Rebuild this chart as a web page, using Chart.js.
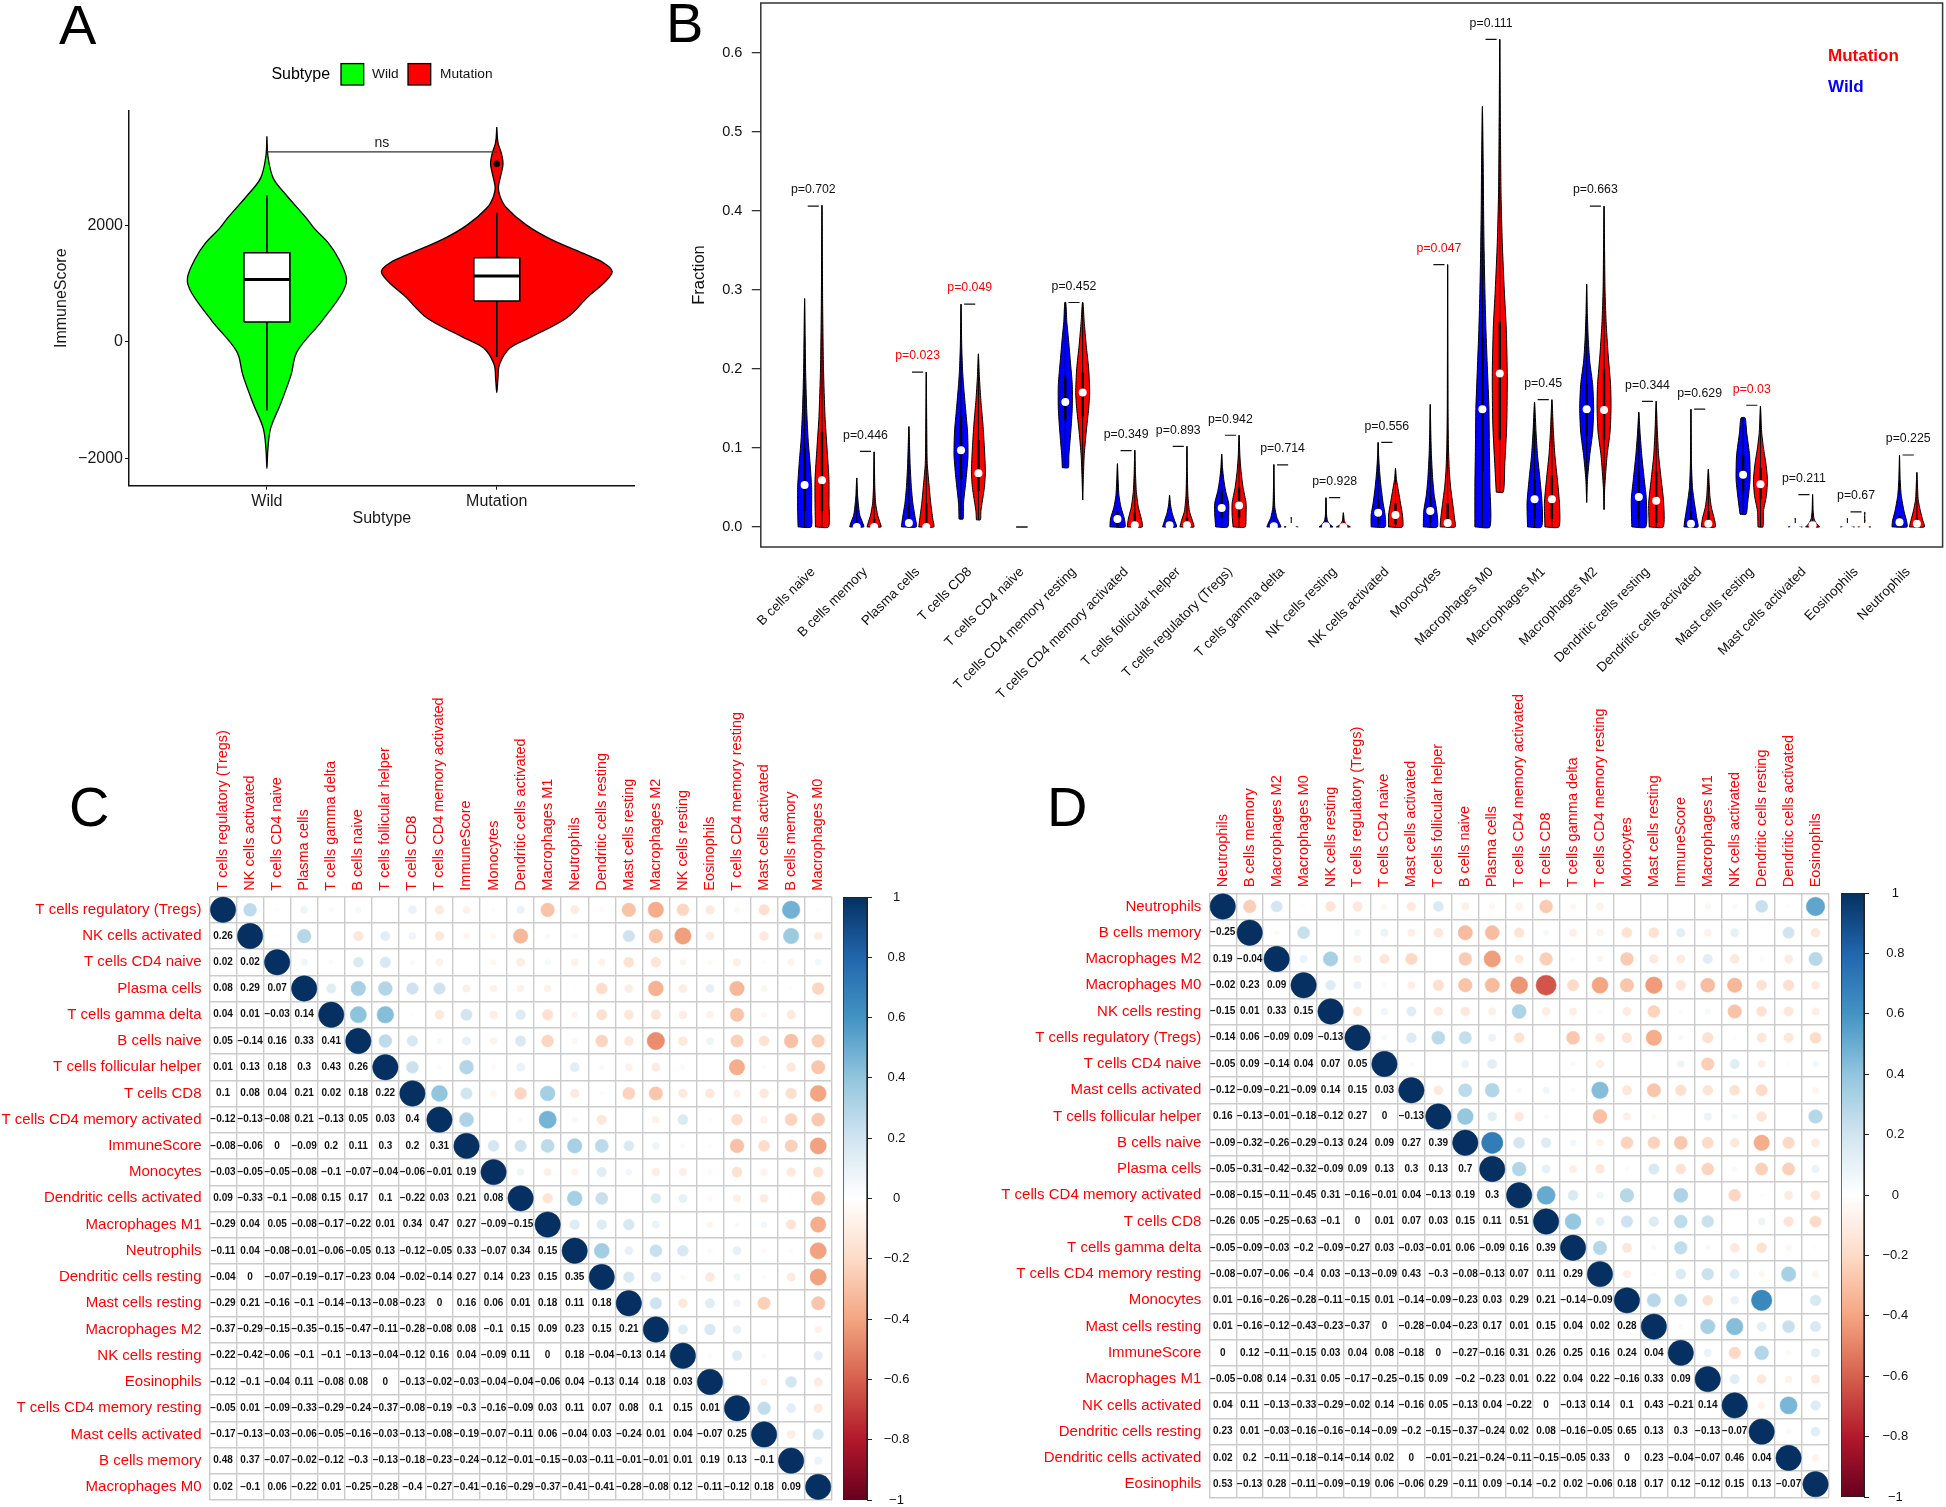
<!DOCTYPE html>
<html>
<head>
<meta charset="utf-8">
<title>Immune cell fractions</title>
<script src="https://cdn.jsdelivr.net/npm/chart.js@4/dist/chart.umd.js"></script>
<style>
html,body{margin:0;padding:0;background:#fff}
#page{position:relative;width:1946px;height:1507px;overflow:hidden;background:#fff}
canvas{position:absolute}
</style>
</head>
<body>
<div id="page"></div>
<script>
/* ================= DATA : PANEL A ================= */
const subtypes=["Wild","Mutation"];
const scoreTicks=[-2000,0,2000];
// violin outline: score, half width in category units
const wildScore=[3528,3173,2806,2530,2132,1948,1703,1427,1090,845,355,-165,-564,-1054,-1482,-1850,-2169];
const wildHalf=[0,.005,.028,.082,.170,.206,.266,.312,.346,.328,.238,.131,.105,.060,.016,.004,0];
const mutScore=[3688,3418,3234,3051,2867,2653,2499,2316,2009,1764,1489,1366,1213,1029,784,417,80,-104,-380,-625,-870];
const mutHalf=[0,.005,.020,.027,.018,.007,.014,.039,.128,.234,.394,.461,.502,.470,.399,.305,.146,.057,.012,.005,0];
// q1, median, q3, whisker low, whisker high
const wildBox=[343,1072,1531,-1176,2512];
const mutBox=[704,1133,1446,-257,2218];
const mutOutlier=[3057];
const nsBracket=3262;

/* ================= DATA : PANEL B ================= */
const cellTypes=["B cells naive","B cells memory","Plasma cells","T cells CD8","T cells CD4 naive","T cells CD4 memory resting","T cells CD4 memory activated","T cells follicular helper","T cells regulatory (Tregs)","T cells gamma delta","NK cells resting","NK cells activated","Monocytes","Macrophages M0","Macrophages M1","Macrophages M2","Dendritic cells resting","Dendritic cells activated","Mast cells resting","Mast cells activated","Eosinophils","Neutrophils"];
const pValues=["p=0.702","p=0.446","p=0.023","p=0.049",null,"p=0.452","p=0.349","p=0.893","p=0.942","p=0.714","p=0.928","p=0.556","p=0.047","p=0.111","p=0.45","p=0.663","p=0.344","p=0.629","p=0.03","p=0.211","p=0.67","p=0.225"];
const pRed=["p=0.023","p=0.049","p=0.047","p=0.03"];
const bracketY=[.406,.0955,.196,.282,null,.284,.0966,.102,.116,.0785,.037,.107,.332,.617,.161,.406,.159,.149,.154,.041,.019,.091];
// [fraction, density] with density 1 = widest
const wildShapes=[
[[0,.87],[.02,.93],[.05,.93],[.08,.73],[.11,.47],[.15,.27],[.2,.13],[.24,.08],[.289,0]],
[[0,.93],[.005,.8],[.015,.4],[.03,.2],[.04,.11],[.062,0]],
[[0,1],[.01,.87],[.03,.53],[.05,.33],[.08,.16],[.127,0]],
[[.01,.27],[.03,.33],[.06,.67],[.09,.93],[.12,.87],[.15,.6],[.18,.33],[.2,.2],[.23,.09],[.282,0]],
null,
[[.075,.4],[.09,.47],[.12,.73],[.15,.93],[.18,.93],[.21,.67],[.24,.4],[.26,.2],[.284,.07]],
[[0,1],[.01,.93],[.025,.47],[.04,.2],[.06,.09],[.08,0]],
[[0,.93],[.008,.67],[.018,.33],[.028,.13],[.04,0]],
[[0,.8],[.015,.93],[.03,.93],[.045,.53],[.06,.27],[.075,.11],[.092,0]],
[[0,.93],[.005,.73],[.012,.4],[.025,.13],[.05,.05],[.079,0]],
[[0,.93],[.003,.53],[.008,.2],[.015,.08],[.037,0]],
[[0,.93],[.015,.93],[.03,.67],[.05,.4],[.07,.2],[.09,.07],[.107,0]],
[[0,.93],[.02,.87],[.04,.53],[.06,.33],[.09,.16],[.12,.07],[.155,0]],
[[0,1],[.05,1],[.1,.93],[.15,.87],[.2,.67],[.25,.47],[.3,.33],[.35,.23],[.4,.16],[.46,.11],[.532,0]],
[[0,.93],[.03,1],[.06,.73],[.09,.4],[.12,.2],[.158,0]],
[[.031,0],[.06,.11],[.09,.4],[.12,.8],[.15,.93],[.18,.8],[.21,.4],[.24,.2],[.27,.09],[.307,0]],
[[0,.93],[.035,1],[.06,.73],[.09,.4],[.12,.16],[.145,0]],
[[0,.93],[.01,.8],[.03,.47],[.05,.2],[.08,.07],[.149,0]],
[[.016,.4],[.03,.6],[.06,.93],[.09,.87],[.12,.47],[.138,.27]],
[[0,.93],[.001,.13],[.002,.04],[.011,0]],
[[0,.93],[.001,.13],[.002,.04],[.011,0]],
[[0,1],[.008,.93],[.02,.6],[.04,.23],[.06,.09],[.091,0]]
];
const mutShapes=[
[[0,.87],[.03,.93],[.06,.93],[.1,.67],[.14,.4],[.2,.2],[.28,.09],[.407,0]],
[[0,.93],[.005,.8],[.015,.47],[.03,.2],[.05,.09],[.095,0]],
[[0,1],[.01,.87],[.03,.6],[.05,.4],[.08,.13],[.12,.07],[.196,0]],
[[.009,.27],[.02,.33],[.05,.8],[.07,.93],[.1,.8],[.13,.6],[.16,.33],[.19,.13],[.219,0]],
null,
[[.034,0],[.06,.08],[.09,.2],[.12,.47],[.15,.8],[.17,.93],[.2,.8],[.23,.47],[.26,.2],[.284,.04]],
[[0,1],[.01,.87],[.025,.47],[.045,.2],[.07,.08],[.097,0]],
[[0,.93],[.008,.73],[.02,.33],[.04,.13],[.07,.05],[.102,0]],
[[0,.8],[.015,.93],[.03,.93],[.05,.53],[.07,.27],[.09,.11],[.116,0]],
[[0,.93],[.001,.13],[.002,.04],[.012,0]],
[[0,.93],[.003,.4],[.008,.13],[.018,0]],
[[0,.93],[.015,.93],[.03,.67],[.045,.4],[.06,.13],[.074,0]],
[[0,1],[.01,.93],[.03,.67],[.05,.4],[.07,.23],[.1,.11],[.15,.05],[.332,0]],
[[.044,.47],[.08,.67],[.13,.93],[.19,1],[.25,.87],[.3,.6],[.36,.33],[.42,.17],[.5,.09],[.617,0]],
[[0,.93],[.03,1],[.06,.73],[.09,.4],[.12,.2],[.161,0]],
[[.022,0],[.05,.09],[.09,.4],[.12,.8],[.15,.93],[.18,.87],[.22,.53],[.26,.27],[.3,.13],[.35,.07],[.406,0]],
[[0,.93],[.03,1],[.06,.67],[.09,.33],[.12,.16],[.159,0]],
[[0,.93],[.01,.8],[.025,.4],[.04,.2],[.073,0]],
[[0,.33],[.02,.4],[.04,.8],[.06,.93],[.08,.73],[.1,.4],[.12,.16],[.153,0]],
[[0,.93],[.004,.53],[.01,.2],[.02,.07],[.041,0]],
[[0,.93],[.001,.13],[.003,.04],[.019,0]],
[[0,1],[.008,.8],[.02,.47],[.035,.17],[.069,0]]
];
const wildMedian=[.053,0,.005,.097,null,.158,.01,.002,.024,.001,.001,.018,.02,.149,.035,.149,.038,.004,.066,0,0,.006];
const mutMedian=[.059,0,0,.068,null,.17,.002,.002,.027,0,0,.015,.005,.194,.035,.148,.033,.004,.054,.002,0,.004];
const wildQ1=[.02,0,0,.06,null,.135,0,0,.012,0,0,.003,.005,.07,.01,.115,.01,0,.045,0,0,0];
const wildQ3=[.1,.008,.03,.14,null,.19,.02,.01,.045,.004,.002,.035,.04,.24,.06,.18,.07,.02,.09,0,0,.015];
const mutQ1=[.02,0,0,.045,null,.14,0,0,.012,0,0,.003,0,.11,.01,.11,.005,0,.035,0,0,0];
const mutQ3=[.12,.01,.03,.11,null,.195,.018,.012,.05,.001,.001,.03,.03,.26,.065,.2,.07,.02,.075,.002,0,.012];
const fractionTicks=[0,.1,.2,.3,.4,.5,.6];
const emptyCellType=[0];      // T cells CD4 naive is a flat dash at zero
const dashedWild=[19,20];
const dashedMut=[9,20];

/* ================= DATA : PANELS C, D ================= */
const cNames=["T cells regulatory (Tregs)","NK cells activated","T cells CD4 naive","Plasma cells","T cells gamma delta","B cells naive","T cells follicular helper","T cells CD8","T cells CD4 memory activated","ImmuneScore","Monocytes","Dendritic cells activated","Macrophages M1","Neutrophils","Dendritic cells resting","Mast cells resting","Macrophages M2","NK cells resting","Eosinophils","T cells CD4 memory resting","Mast cells activated","B cells memory","Macrophages M0"];
const cLower=[
[],
[.26],
[.02,.02],
[.08,.29,.07],
[.04,.01,-.03,.14],
[.05,-.14,.16,.33,.41],
[.01,.13,.18,.3,.43,.26],
[.1,.08,.04,.21,.02,.18,.22],
[-.12,-.13,-.08,.21,-.13,.05,.03,.4],
[-.08,-.06,0,-.09,.2,.11,.3,.2,.31],
[-.03,-.05,-.05,-.08,-.1,-.07,-.04,-.06,-.01,.19],
[.09,-.33,-.1,-.08,.15,.17,.1,-.22,.03,.21,.08],
[-.29,.04,.05,-.08,-.17,-.22,.01,.34,.47,.27,-.09,-.15],
[-.11,.04,-.08,-.01,-.06,-.05,.13,-.12,-.05,.33,-.07,.34,.15],
[-.04,0,-.07,-.19,-.17,-.23,.04,-.02,-.14,.27,.14,.23,.15,.35],
[-.29,.21,-.16,-.1,-.14,-.13,-.08,-.23,0,.16,.06,.01,.18,.11,.18],
[-.37,-.29,-.15,-.35,-.15,-.47,-.11,-.28,-.08,.08,-.1,.15,.09,.23,.15,.21],
[-.22,-.42,-.06,-.1,-.1,-.13,-.04,-.12,.16,.04,-.09,.11,0,.18,-.04,-.13,.14],
[-.12,-.1,-.04,.11,-.08,.08,0,-.13,-.02,-.03,-.04,-.04,-.06,.04,-.13,.14,.18,.03],
[-.05,.01,-.09,-.33,-.29,-.24,-.37,-.08,-.19,-.3,-.16,-.09,.03,.11,.07,.08,.1,.15,.01],
[-.17,-.13,-.03,-.06,-.05,-.16,-.03,-.13,-.08,-.19,-.07,-.11,.06,-.04,.03,-.24,.01,.04,-.07,.25],
[.48,.37,-.07,-.02,-.12,-.3,-.13,-.18,-.23,-.24,-.12,-.01,-.15,-.03,-.11,-.01,-.01,.01,.19,.13,-.1],
[.02,-.1,.06,-.22,.01,-.25,-.28,-.4,-.27,-.41,-.16,-.29,-.37,-.41,-.41,-.28,-.08,.12,-.11,-.12,.18,.09]
];
const dNames=["Neutrophils","B cells memory","Macrophages M2","Macrophages M0","NK cells resting","T cells regulatory (Tregs)","T cells CD4 naive","Mast cells activated","T cells follicular helper","B cells naive","Plasma cells","T cells CD4 memory activated","T cells CD8","T cells gamma delta","T cells CD4 memory resting","Monocytes","Mast cells resting","ImmuneScore","Macrophages M1","NK cells activated","Dendritic cells resting","Dendritic cells activated","Eosinophils"];
const dLower=[
[],
[-.25],
[.19,-.04],
[-.02,.23,.09],
[-.15,.01,.33,.15],
[-.14,.06,-.09,.09,-.13],
[-.05,.09,-.14,.04,.07,.05],
[-.12,-.09,-.21,-.09,.14,.15,.03],
[.16,-.13,-.01,-.18,-.12,.27,0,-.13],
[-.09,-.32,-.26,-.29,-.13,.24,.09,.27,.39],
[-.05,-.31,-.42,-.32,-.09,.09,.13,.3,.13,.7],
[-.08,-.15,-.11,-.45,.31,-.16,-.01,.04,-.13,.19,.3],
[-.26,.05,-.25,-.63,-.1,0,.01,.07,.03,.15,.11,.51],
[-.05,-.09,-.03,-.2,-.09,-.27,.03,-.03,-.01,.06,-.09,.16,.39],
[-.08,-.07,-.06,-.4,.03,-.13,-.09,.43,-.3,-.08,-.13,.07,.11,.29],
[.01,-.16,-.26,-.28,-.11,-.15,.01,-.14,-.09,-.23,.03,.29,.21,-.14,-.09],
[.01,-.16,-.12,-.43,-.23,-.37,0,-.28,-.04,-.23,.17,.01,.15,.04,.02,.28],
[0,.12,-.11,-.15,.03,.04,.08,-.18,0,-.27,-.16,.31,.26,.25,.16,.24,.04],
[-.05,-.08,.14,-.31,.05,-.17,-.25,-.15,.09,-.2,-.23,.01,.22,.04,.22,-.16,.33,.09],
[.04,.11,-.13,-.33,-.29,-.02,.14,-.16,.05,-.13,.04,-.22,0,-.13,.14,.1,.43,-.21,.14],
[.23,.01,-.03,-.16,-.16,-.14,-.09,-.2,-.15,-.37,-.24,.02,.08,-.16,-.05,.65,.13,.3,-.13,-.07],
[.02,.2,-.11,-.18,-.14,-.14,.02,0,-.01,-.21,-.24,-.11,-.15,-.05,.33,0,.23,-.04,-.07,.46,.04],
[.53,-.13,.28,-.11,-.09,-.19,.06,-.06,.29,-.11,.09,-.14,-.2,.02,-.06,.18,.17,.12,-.12,.15,.13,-.07]
];
const corrTicks=[-1,-.8,-.6,-.4,-.2,0,.2,.4,.6,.8,1];
const corrPalette=["#67001F","#B2182B","#D6604D","#F4A582","#FDDBC7","#FFFFFF","#D1E5F0","#92C5DE","#4393C3","#2166AC","#053061"];

/* ================= HELPERS ================= */
Chart.defaults.font.family='"Liberation Sans"';
Chart.defaults.animation=false;
Chart.defaults.events=[];
Chart.defaults.plugins.legend.display=false;
Chart.defaults.plugins.tooltip.enabled=false;

const FONT='"Liberation Sans"';
const page=document.getElementById("page");

function makeCanvas(x,y,w,h){
const c=document.createElement("canvas");
c.width=w;c.height=h;
c.style.left=x+"px";c.style.top=y+"px";
c.style.width=w+"px";c.style.height=h+"px";
page.appendChild(c);
return c;
}

// scale box of a set size, no extra margin from the layout
const fixedSize=size=>s=>{
if(s.isHorizontal()) s.height=size; else s.width=size;
s.paddingLeft=s.paddingRight=s.paddingTop=s.paddingBottom=0;
};
const minusText=v=>String(v).replace("-","\u2212");

function writeText(ctx,text,x,y,font,color,align,rotate){
ctx.save();
ctx.font=font;
ctx.fillStyle=color||"#000";
ctx.textAlign=align||"center";
ctx.textBaseline="middle";
ctx.translate(x,y);
if(rotate) ctx.rotate(rotate);
ctx.fillText(text,0,0);
ctx.restore();
}

/* fill closed outlines using the dataset's own line element */
const shapeFill={
id:"shapeFill",
beforeDatasetDraw(chart,args){
const ds=chart.data.datasets[args.index];
if(!ds.shapeFill) return;
const line=chart.getDatasetMeta(args.index).dataset;
line.updateControlPoints(chart.chartArea,"x");
const ctx=chart.ctx;
ctx.save();
ctx.fillStyle=ds.shapeFill;
ctx.beginPath();
line.path(ctx);
ctx.closePath();
ctx.fill();
ctx.restore();
}
};
Chart.register(shapeFill);

function outline(center,ys,halves){
const pts=[];
const n=ys.length;
for(let k=0;k<n;k++) pts.push({x:center-halves[k],y:ys[k]});
for(let k=n-1;k>=0;k--){
if(halves[k]===0) continue;
pts.push({x:center+halves[k],y:ys[k]});
}
if(halves[0]>0) pts.push({x:center-halves[0],y:ys[0]});
else pts.push({x:center,y:ys[0]});
return pts;
}

function corrColor(v){
const t=(v+1)/2*(corrPalette.length-1);
const i=Math.min(Math.floor(t),corrPalette.length-2);
const f=t-i;
const a=corrPalette[i],b=corrPalette[i+1];
const ch=(s,p)=>parseInt(s.substr(p,2),16);
const mix=p=>Math.round(ch(a,p)+(ch(b,p)-ch(a,p))*f);
return "rgb("+mix(1)+","+mix(3)+","+mix(5)+")";
}

/* ================= PANEL A ================= */
function boxOf(center,b,half){
return [{x:center-half,y:b[0]},{x:center-half,y:b[2]},{x:center+half,y:b[2]},{x:center+half,y:b[0]},{x:center-half,y:b[0]}];
}
function drawPanelA(){
const W=650,H=560;
const boxHalf=.1;
const thin={pointRadius:0,showLine:true,borderColor:"#000",borderWidth:1.6};
const ds=[
{data:mutOutlier.map(v=>({x:2,y:v})),pointRadius:3,pointBackgroundColor:"#000",pointBorderColor:"#000",showLine:false},
{data:[{x:1-boxHalf,y:wildBox[1]},{x:1+boxHalf,y:wildBox[1]}],...thin,borderWidth:3},
{data:[{x:2-boxHalf,y:mutBox[1]},{x:2+boxHalf,y:mutBox[1]}],...thin,borderWidth:3},
{data:boxOf(1,wildBox,boxHalf),...thin,tension:.001,shapeFill:"#fff"},
{data:boxOf(2,mutBox,boxHalf),...thin,tension:.001,shapeFill:"#fff"},
{data:[{x:1,y:wildBox[3]},{x:1,y:wildBox[4]}],...thin},
{data:[{x:2,y:mutBox[3]},{x:2,y:mutBox[4]}],...thin},
{data:[{x:1,y:nsBracket},{x:2,y:nsBracket}],...thin,borderColor:"#333",borderWidth:1.2},
{data:outline(2,mutScore,mutHalf),pointRadius:0,showLine:true,borderColor:"#000",borderWidth:1.3,tension:.35,shapeFill:"#ff0000"},
{data:outline(1,wildScore,wildHalf),pointRadius:0,showLine:true,borderColor:"#000",borderWidth:1.3,tension:.35,shapeFill:"#00ff00"}
];
new Chart(makeCanvas(0,0,W,H),{
type:"scatter",
data:{datasets:ds},
options:{
responsive:false,
layout:{autoPadding:false,padding:{left:52,top:110.7,right:W-634.7,bottom:H-528}},
scales:{
x:{type:"linear",min:.4,max:2.6,
afterBuildTicks:s=>{s.ticks=[{value:1},{value:2}];},
afterFit:fixedSize(42.3),
ticks:{callback:v=>subtypes[v-1],font:{size:16},color:"#1a1a1a",padding:2,maxRotation:0,autoSkip:false},
grid:{drawOnChartArea:false,tickLength:4,tickColor:"#111"},
border:{color:"#111",width:1.5},
title:{display:true,text:"Subtype",font:{size:16},color:"#1a1a1a",padding:0}},
y:{type:"linear",min:-2465,max:3967,
afterBuildTicks:s=>{s.ticks=scoreTicks.map(v=>({value:v}));},
afterFit:fixedSize(77),
ticks:{callback:minusText,font:{size:16},color:"#1a1a1a",padding:2},
grid:{drawOnChartArea:false,tickLength:4,tickColor:"#111"},
border:{color:"#111",width:1.5},
title:{display:true,text:"ImmuneScore",font:{size:16},color:"#1a1a1a",padding:0}}
}
},
plugins:[{
id:"panelA",
afterDraw(chart){
const ctx=chart.ctx;
writeText(ctx,"A",59,29,"56px "+FONT,"#000","left");
writeText(ctx,"ns",chart.scales.x.getPixelForValue(1.5),chart.scales.y.getPixelForValue(nsBracket)-9,"14px "+FONT,"#1a1a1a");
writeText(ctx,"Subtype",271.4,74.3,"16px "+FONT,"#000","left");
ctx.save();
ctx.strokeStyle="#000";ctx.lineWidth=1.3;
ctx.fillStyle="#00ff00";ctx.fillRect(341,63.6,22.7,21.4);ctx.strokeRect(341,63.6,22.7,21.4);
ctx.fillStyle="#ff0000";ctx.fillRect(408,63.6,22.7,21.4);ctx.strokeRect(408,63.6,22.7,21.4);
ctx.restore();
writeText(ctx,subtypes[0],372,74.3,"13.7px "+FONT,"#111","left");
writeText(ctx,subtypes[1],440,74.3,"13.7px "+FONT,"#111","left");
}
}]
});
}

/* ================= PANEL B ================= */
const pairOffset=1/6;
const violinHalf=.144;

function drawPanelB(){
const W=1296,H=700;
const dots=[],iqr=[],whisk=[],dash=[],outlines=[];
const addSide=(shapes,median,q1,q3,off,color,dashed)=>{
shapes.forEach((s,i)=>{
if(!s) return;
const c=i+off;
const ys=s.map(p=>p[0]);
const hs=s.map(p=>p[1]*violinHalf);
const d={data:outline(c,ys,hs),pointRadius:0,showLine:true,borderColor:"#000",borderWidth:1,tension:.2,shapeFill:color};
if(dashed.includes(i)){ d.borderDash=[2,5]; }
outlines.push(d);
dots.push({x:c,y:median[i]});
iqr.push({x:c,y:q1[i]},{x:c,y:q3[i]},{x:NaN,y:NaN});
whisk.push({x:c,y:ys[0]},{x:c,y:ys[ys.length-1]},{x:NaN,y:NaN});
});
};
addSide(wildShapes,wildMedian,wildQ1,wildQ3,-pairOffset,"#0000ff",dashedWild);
addSide(mutShapes,mutMedian,mutQ1,mutQ3,pairOffset,"#ff0000",dashedMut);
bracketY.forEach((v,i)=>{
if(v===null) return;
dash.push({x:i-pairOffset+.06,y:v},{x:i+pairOffset-.06,y:v},{x:NaN,y:NaN});
});
const lineDs=(data,w,color)=>({data,pointRadius:0,showLine:true,borderColor:color,borderWidth:w,spanGaps:false});
const flat=emptyCellType.map(v=>[{x:4-.11,y:v},{x:4+.11,y:v}])[0];
new Chart(makeCanvas(650,0,W,H),{
type:"scatter",
data:{datasets:[
{data:dots,pointRadius:4,pointBackgroundColor:"#fff",pointBorderColor:"#fff",pointBorderWidth:0,showLine:false},
lineDs(iqr,2.4,"#000"),
lineDs(whisk,1,"#000"),
lineDs(dash,1.2,"#111"),
lineDs(flat,1.5,"#111"),
...outlines
]},
options:{
responsive:false,
layout:{autoPadding:false,padding:{left:39.5,top:3,right:3.4,bottom:0}},
scales:{
x:{type:"linear",min:-1.007,max:21.66,
afterBuildTicks:s=>{s.ticks=cellTypes.map((_,i)=>({value:i}));},
afterFit:fixedSize(H-547),
ticks:{callback:v=>cellTypes[v],font:{size:13.5},color:"#111",padding:9,minRotation:45,maxRotation:45,autoSkip:false},
grid:{display:false},
border:{display:false}},
y:{type:"linear",min:-.0254,max:.663,
afterBuildTicks:s=>{s.ticks=fractionTicks.map(v=>({value:v}));},
afterFit:fixedSize(71.3),
ticks:{callback:v=>v.toFixed(1),font:{size:14.5},color:"#111",padding:9.4},
grid:{drawOnChartArea:false,tickLength:9,tickColor:"#333",lineWidth:1.3},
border:{display:false},
title:{display:true,text:"Fraction",font:{size:16.5},color:"#111",padding:0}}
}
},
plugins:[{
id:"panelB",
afterDraw(chart){
const ctx=chart.ctx,a=chart.chartArea,xs=chart.scales.x,ys=chart.scales.y;
ctx.save();
ctx.strokeStyle="#333";ctx.lineWidth=1.5;
ctx.strokeRect(a.left,a.top,a.right-a.left,a.bottom-a.top);
ctx.restore();
pValues.forEach((p,i)=>{
if(!p) return;
writeText(ctx,p,xs.getPixelForValue(i),ys.getPixelForValue(bracketY[i])-16,"12.3px "+FONT,pRed.includes(p)?"#ff0000":"#111");
});
writeText(ctx,"B",16,27,"56px "+FONT,"#000","left");
writeText(ctx,"Mutation",1178,56,"bold 17px "+FONT,"#ff0000","left");
writeText(ctx,"Wild",1178,87,"bold 17px "+FONT,"#0000ff","left");
}
}]
});
}

/* ================= PANELS C, D ================= */
const circleR=12.7;

function corrChart(names,lower,letter,letterX,canvasX,canvasY,canvasW,canvasH,grid){
const cells=[],texts=[];
names.forEach((n,i)=>{
names.forEach((m,j)=>{
if(i>j) texts.push({x:m,y:n,v:lower[i][j]});
else cells.push({x:m,y:n,v:i===j?1:lower[j][i]});
});
});
const rowFont=15,colFont=14.5;
const axisOpts={type:"category",labels:names,offset:true,
grid:{offset:true,color:"#cccccc",lineWidth:1.4,drawTicks:false},
border:{display:false}};
new Chart(makeCanvas(canvasX,canvasY,canvasW,canvasH),{
type:"scatter",
data:{datasets:[
{data:texts,pointRadius:0,showLine:false},
{data:cells,showLine:false,
pointRadius:c=>c.raw?circleR*Math.sqrt(Math.abs(c.raw.v)):0,
pointBackgroundColor:c=>c.raw?corrColor(c.raw.v):"#fff",
pointBorderColor:c=>c.raw?corrColor(c.raw.v):"#fff",
pointBorderWidth:.5}
]},
options:{
responsive:false,
layout:{autoPadding:false,padding:{left:0,top:0,right:canvasX+canvasW-grid.right,bottom:canvasY+canvasH-grid.bottom}},
scales:{
// top labels sit a line height left of the tick unless shifted back
x:{...axisOpts,position:"top",afterFit:fixedSize(grid.top-canvasY),ticks:{font:{size:colFont,lineHeight:1.2},color:"#ff0000",padding:6,labelOffset:colFont*1.2,minRotation:90,maxRotation:90,autoSkip:false}},
y:{...axisOpts,position:"left",afterFit:fixedSize(grid.left-canvasX),ticks:{font:{size:rowFont},color:"#ff0000",padding:8,autoSkip:false}}
}
},
plugins:[{
id:"cellText",
afterDraw(chart){
const ctx=chart.ctx;
chart.getDatasetMeta(0).data.forEach((pt,k)=>{
writeText(ctx,minusText(texts[k].v),pt.x,pt.y,"bold 10px "+FONT,"#111");
});
writeText(ctx,letter,letterX-canvasX,811-canvasY,"56px "+FONT,"#000","left");
}
}]
});

/* colour bar */
const barLen=grid.barRight-grid.barLeft;
const barX=grid.barLeft-10,barY=grid.top-16,barW=barLen+90;
const barH=grid.bottom-grid.top+24;
new Chart(makeCanvas(barX,barY,barW,barH),{
type:"bar",
data:{labels:["r"],datasets:[{
data:[[-1,1]],
barPercentage:1,categoryPercentage:1,
borderColor:"#222",borderWidth:1,borderSkipped:false,
backgroundColor:c=>{
const s=c.chart.scales.y;
const y0=s?s.getPixelForValue(-1):NaN,y1=s?s.getPixelForValue(1):NaN;
if(!isFinite(y0)||!isFinite(y1)) return "#fff";
const g=c.chart.ctx.createLinearGradient(0,y0,0,y1);
corrPalette.forEach((col,i)=>g.addColorStop(i/(corrPalette.length-1),col));
return g;
}
}]},
options:{
responsive:false,
layout:{autoPadding:false,padding:{left:10,top:16,right:0,bottom:barH-16-(grid.bottom-grid.top)}},
scales:{
x:{display:false},
y:{position:"right",min:-1,max:1,
afterBuildTicks:s=>{s.ticks=corrTicks.map(v=>({value:v}));},
afterFit:fixedSize(80),
ticks:{callback:minusText,font:{size:13},color:"#111",crossAlign:"center",padding:grid.barPad,autoSkip:false},
grid:{drawOnChartArea:false,tickLength:5,tickColor:"#222"},
border:{color:"#222"}}
}
}
});
}

/* ================= INIT ================= */
drawPanelA();
drawPanelB();
corrChart(cNames,cLower,"C",69,0,680,840,827,{left:209.5,top:896.7,right:831.7,bottom:1500,barLeft:843.3,barRight:867.3,barPad:11.7});
corrChart(dNames,dLower,"D",1047,960,680,876,827,{left:1209.3,top:893.3,right:1829,bottom:1497.3,barLeft:1840.7,barRight:1864.3,barPad:13.5});
</script>
</body>
</html>
